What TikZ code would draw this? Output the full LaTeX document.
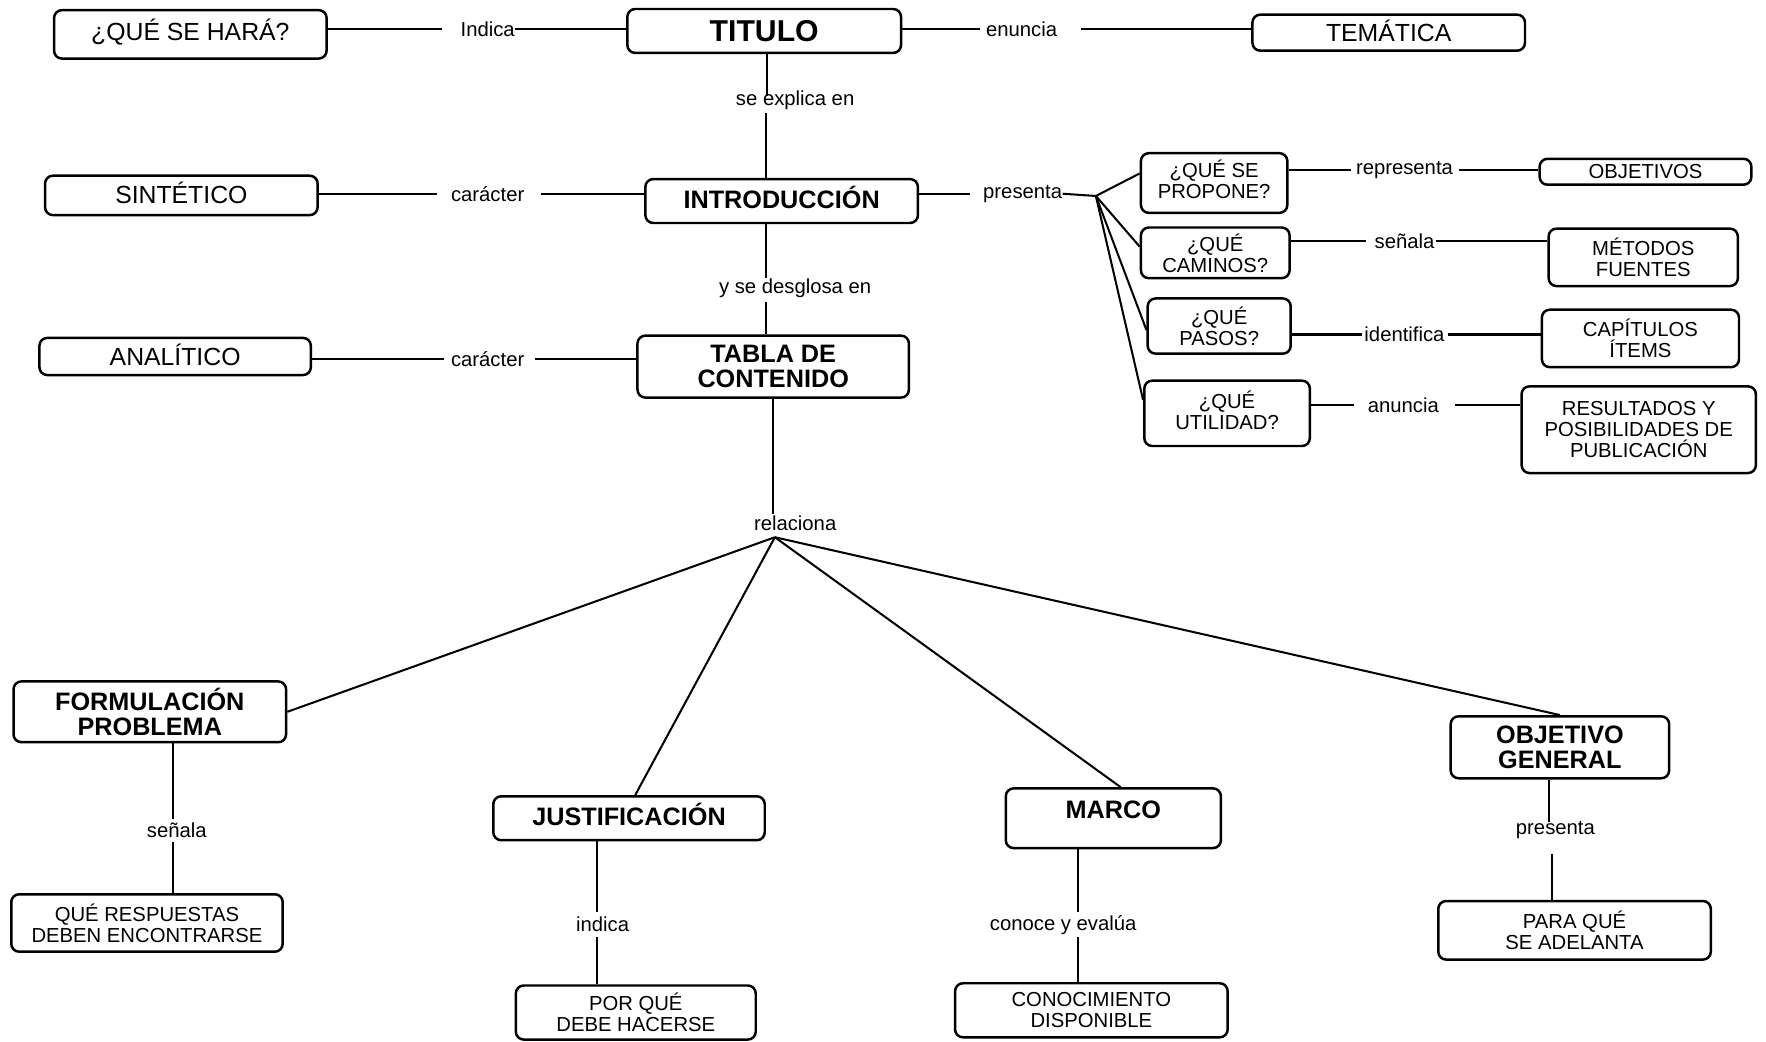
\documentclass[tikz,border=0pt]{standalone}
\usepackage{fontspec}
\setmainfont{Liberation Sans}
\begin{document}
\begin{tikzpicture}[x=0.5pt,y=-0.5pt,
  box/.style={draw, line width=1.1pt, rounded corners=3.5pt, inner sep=0pt, align=center},
  big/.style={font=\fontsize{11}{13}\selectfont},
  one/.style={text height=7.9pt, text depth=0pt},
  bld/.style={font=\fontsize{11.2}{11.4}\selectfont\bfseries},
  ttl/.style={font=\fontsize{13.4}{15}\selectfont\bfseries},
  sm/.style={font=\fontsize{9}{9.3}\selectfont},
  lbl/.style={inner sep=0pt, font=\fontsize{9}{10}\selectfont},
  conn/.style={line width=0.9pt}]
\useasboundingbox (0,0) rectangle (1568,925);
% boxes
\node[box,big,one,minimum width=121pt,minimum height=21.5pt,text depth=2.5pt] (hara) at (169,30.5) {¿QUÉ SE HARÁ?};
\node[box,ttl,minimum width=121.5pt,minimum height=19.5pt,text height=9.6pt,text depth=0pt] (titulo) at (678.5,27.5) {TITULO};
\node[box,big,one,minimum width=121pt,minimum height=16pt] (tematica) at (1233,29) {TEMÁTICA};
\node[box,big,one,minimum width=121pt,minimum height=17.5pt,text depth=1pt] (sintetico) at (161,173.5) {SINTÉTICO};
\node[box,bld,one,minimum width=121pt,minimum height=19.5pt,text height=8pt,text depth=1pt] (intro) at (694,178.5) {INTRODUCCIÓN};
\node[box,sm,minimum width=65pt,minimum height=26.5pt,text depth=3pt] (propone) at (1078,162.5) {¿QUÉ SE\\PROPONE?};
\node[box,sm,minimum width=94pt,minimum height=11.5pt] (objetivos) at (1461,152.5) {OBJETIVOS};
\node[box,sm,minimum width=66pt,minimum height=22.5pt] (caminos) at (1079,224.5) {¿QUÉ\\CAMINOS?};
\node[box,sm,minimum width=84pt,minimum height=25.5pt] (metodos) at (1459,228.5) {MÉTODOS\\FUENTES};
\node[box,sm,minimum width=63.5pt,minimum height=24.5pt] (pasos) at (1082.5,289.5) {¿QUÉ\\PASOS?};
\node[box,sm,minimum width=87.5pt,minimum height=25.5pt] (capitulos) at (1456.5,300.5) {CAPÍTULOS\\ÍTEMS};
\node[box,sm,minimum width=73.5pt,minimum height=29pt,text depth=3pt] (utilidad) at (1089.5,367) {¿QUÉ\\UTILIDAD?};
\node[box,sm,minimum width=104pt,minimum height=38.5pt] (resultados) at (1455,381.5) {RESULTADOS Y\\POSIBILIDADES DE\\PUBLICACIÓN};
\node[box,big,one,minimum width=120.5pt,minimum height=16.5pt] (analitico) at (155.5,316.5) {ANALÍTICO};
\node[box,bld,minimum width=120.5pt,minimum height=27.5pt] (tabla) at (686.5,325.5) {TABLA DE\\CONTENIDO};
\node[box,bld,minimum width=121pt,minimum height=27pt] (formulacion) at (133,632) {FORMULACIÓN\\PROBLEMA};
\node[box,sm,minimum width=120.5pt,minimum height=25.5pt] (respuestas) at (130.5,819.5) {QUÉ RESPUESTAS\\DEBEN ENCONTRARSE};
\node[box,bld,minimum width=120.5pt,minimum height=19.5pt,text height=8pt,text depth=2pt] (justificacion) at (558.5,726.5) {JUSTIFICACIÓN};
\node[box,sm,minimum width=106.5pt,minimum height=24pt] (porque) at (564.5,899) {POR QUÉ\\DEBE HACERSE};
\node[box,bld,minimum width=95.5pt,minimum height=26.5pt,text height=8pt,text depth=7.5pt] (marco) at (988.5,726.5) {MARCO};
\node[box,sm,minimum width=121pt,minimum height=24pt] (conocimiento) at (969,897) {CONOCIMIENTO\\DISPONIBLE};
\node[box,bld,minimum width=97pt,minimum height=27.5pt] (objgeneral) at (1385,663.5) {OBJETIVO\\GENERAL};
\node[box,sm,minimum width=121pt,minimum height=26pt] (paraque) at (1398,826) {PARA QUÉ\\SE ADELANTA};
% labels
\node[lbl] (ind) at (433,26) {Indica};
\node[lbl] (enu) at (907,26) {enuncia};
\node[lbl] (sexp) at (706,89) {se explica en};
\node[lbl] (car1) at (433,172) {carácter};
\node[lbl] (pre1) at (908,172) {presenta};
\node[lbl] (rep) at (1247,151) {representa};
\node[lbl] (sen1) at (1247,214) {señala};
\node[lbl] (ide) at (1247,297) {identifica};
\node[lbl] (anu) at (1246,360) {anuncia};
\node[lbl] (ysd) at (706,256) {y se desglosa en};
\node[lbl] (car2) at (433,319) {carácter};
\node[lbl] (rel) at (706,465) {relaciona};
\node[lbl] (sen2) at (157,737) {señala};
\node[lbl] (indc) at (535,821) {indica};
\node[lbl] (coe) at (944,821) {conoce y evalúa};
\node[lbl] (pre2) at (1381,737) {presenta};
% helper coordinates
\coordinate (a1) at (681,85); \coordinate (a2) at (680,100);
\coordinate (b1) at (680,247); \coordinate (b2) at (680,268);
\coordinate (c1) at (686,456); \coordinate (j2) at (688,477);
\coordinate (j1) at (973,174);
\coordinate (d1) at (154,727); \coordinate (d2) at (154,748);
\coordinate (e1) at (530,810); \coordinate (e2) at (530,832);
\coordinate (f1) at (957,810); \coordinate (f2) at (957,832);
\coordinate (g1) at (1375,730); \coordinate (g2) at (1378,758);
% connectors
\draw[conn] (hara.east |- ind) -- ([xshift=-8pt]ind.west);
\draw[conn] (ind.east) -- (titulo.west |- ind);
\draw[conn] (titulo.east |- enu) -- ([xshift=-2.5pt]enu.west);
\draw[conn] ([xshift=10.5pt]enu.east) -- (tematica.west |- enu);
\draw[conn] (titulo.south -| a1) -- (a1);
\draw[conn] (a2) -- (intro.north -| a2);
\draw[conn] (sintetico.east |- car1) -- ([xshift=-6pt]car1.west);
\draw[conn] ([xshift=7pt]car1.east) -- (intro.west |- car1);
\draw[conn] (intro.east |- pre1) -- ([xshift=-5.5pt]pre1.west);
\draw[conn] (pre1.east) -- (j1);
\draw[conn] (j1) -- ([yshift=4.25pt]propone.west);
\draw[conn] (j1) -- ([yshift=2.75pt]caminos.west);
\draw[conn] (j1) -- ([yshift=-1.75pt]pasos.west);
\draw[conn] (j1) -- ([yshift=6pt]utilidad.west);
\draw[conn] (propone.east |- rep) -- ([xshift=-2pt]rep.west);
\draw[conn] ([xshift=2.5pt]rep.east) -- (objetivos.west |- rep);
\draw[conn] (caminos.east |- sen1) -- ([xshift=-3.75pt]sen1.west);
\draw[conn] ([xshift=0.75pt]sen1.east) -- (metodos.west |- sen1);
\draw[conn] (pasos.east |- ide) -- ([xshift=-0.75pt]ide.west);
\draw[conn] ([xshift=1.25pt]ide.east) -- (capitulos.west |- ide);
\draw[conn] (utilidad.east |- anu) -- ([xshift=-6pt]anu.west);
\draw[conn] ([xshift=7pt]anu.east) -- (resultados.west |- anu);
\draw[conn] (intro.south -| b1) -- (b1);
\draw[conn] (b2) -- (tabla.north -| b2);
\draw[conn] (analitico.east |- car2) -- ([xshift=-2.75pt]car2.west);
\draw[conn] ([xshift=4.75pt]car2.east) -- (tabla.west |- car2);
\draw[conn] (tabla.south -| c1) -- (c1);
\draw[conn] (j2) -- (formulacion.east);
\draw[conn] (j2) -- ([xshift=2.75pt]justificacion.north);
\draw[conn] (j2) -- ([xshift=3.25pt]marco.north);
\draw[conn] (j2) -- (objgeneral.north);
\draw[conn] (formulacion.south -| d1) -- (d1);
\draw[conn] (d2) -- (respuestas.north -| d2);
\draw[conn] (justificacion.south -| e1) -- (e1);
\draw[conn] (e2) -- (porque.north -| e2);
\draw[conn] (marco.south -| f1) -- (f1);
\draw[conn] (f2) -- (conocimiento.north -| f2);
\draw[conn] (objgeneral.south -| g1) -- (g1);
\draw[conn] (g2) -- (paraque.north -| g2);
\end{tikzpicture}
\end{document}
